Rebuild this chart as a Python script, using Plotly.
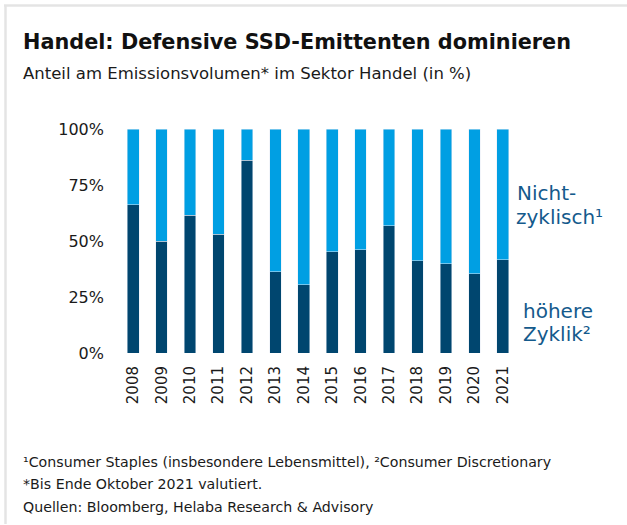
import plotly.graph_objects as go

years = ["2008", "2009", "2010", "2011", "2012", "2013", "2014",
         "2015", "2016", "2017", "2018", "2019", "2020", "2021"]
hoehere_zyklik = [66.2, 50.0, 61.6, 53.0, 86.0, 36.3, 30.5,
                  45.2, 46.0, 56.9, 41.2, 39.8, 35.4, 41.6]
nicht_zyklisch = [33.8, 50.0, 38.4, 47.0, 14.0, 63.7, 69.5,
                  54.8, 54.0, 43.1, 58.8, 60.2, 64.6, 58.4]
y_ticks = [0, 25, 50, 75, 100]
y_tick_labels = ["0%", "25%", "50%", "75%", "100%"]

W, H = 627, 525
L, R, T, B = 119, 110, 128.5, 171.7
pw, ph = W - L - R, H - T - B

def px(x):
    return (x - L) / pw

def py(y):
    return (H - B - y) / ph

DARK = "#00466F"
LIGHT = "#009FE3"
LABEL = "#145A8C"
FONT = "DejaVu Sans"
TXT = "#1a1a1a"

fig = go.Figure()
fig.add_bar(x=years, y=hoehere_zyklik, marker_color=DARK, name="höhere Zyklik²")
fig.add_bar(x=years, y=nicht_zyklisch, marker_color=LIGHT, name="Nicht-zyklisch¹")

fig.update_layout(
    width=W, height=H,
    margin=dict(l=L, r=R, t=T, b=B, autoexpand=False),
    barmode="stack", bargap=0.59,
    showlegend=False,
    paper_bgcolor="white", plot_bgcolor="white",
    font=dict(family=FONT, color=TXT),
    xaxis=dict(type="category", tickangle=-90, showgrid=False, zeroline=False,
               showline=False, ticks="", tickfont=dict(size=15, color=TXT),
               range=[-0.5, 13.5], ticklabelstandoff=9),
    yaxis=dict(range=[0, 100], tickvals=y_ticks, ticktext=y_tick_labels,
               showgrid=False, zeroline=False, showline=False, ticks="",
               tickfont=dict(size=16, color=TXT), ticklabelstandoff=14),
)

ann = [
    dict(text="<b>Handel: Defensive SSD-Emittenten dominieren</b>", x=px(21), y=py(41),
         font=dict(size=20.8, color="#111111")),
    dict(text="Anteil am Emissionsvolumen* im Sektor Handel (in %)", x=px(21), y=py(73),
         font=dict(size=16.5, color=TXT)),
    dict(text="¹Consumer Staples (insbesondere Lebensmittel), ²Consumer Discretionary",
         x=px(21), y=py(463), font=dict(size=14.2, color=TXT)),
    dict(text="*Bis Ende Oktober 2021 valutiert.", x=px(21), y=py(485),
         font=dict(size=14.2, color=TXT)),
    dict(text="Quellen: Bloomberg, Helaba Research & Advisory", x=px(21), y=py(508),
         font=dict(size=14.2, color=TXT)),
    dict(text="Nicht-", x=px(514.5), y=py(193), font=dict(size=20, color=LABEL)),
    dict(text="zyklisch¹", x=px(514), y=py(217), font=dict(size=20, color=LABEL)),
    dict(text="höhere", x=px(521), y=py(311), font=dict(size=20, color=LABEL)),
    dict(text="Zyklik²", x=px(521), y=py(334), font=dict(size=20, color=LABEL)),
]
for a in ann:
    fig.add_annotation(xref="paper", yref="paper", xanchor="left", yanchor="middle",
                       showarrow=False, **a)

fig.add_shape(type="line", xref="paper", yref="paper", x0=px(4), x1=px(627),
              y0=py(4.5), y1=py(4.5), line=dict(color="#e4e4e4", width=2.5))
fig.add_shape(type="line", xref="paper", yref="paper", x0=px(5.5), x1=px(5.5),
              y0=py(4.5), y1=py(525), line=dict(color="#e4e4e4", width=2.5))

fig.write_html("out.html", config={"displayModeBar": False},
               post_script="document.body.style.margin='0';")
